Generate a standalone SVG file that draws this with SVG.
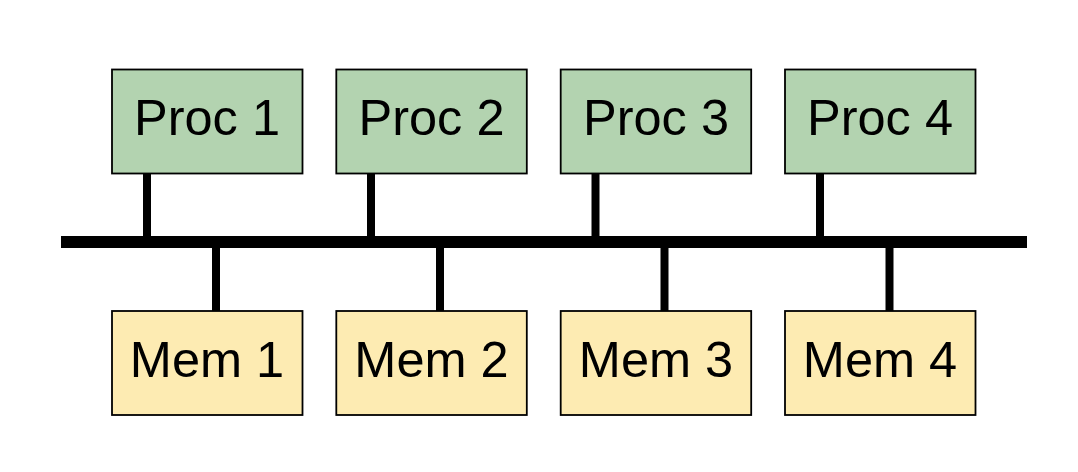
<svg xmlns="http://www.w3.org/2000/svg" width="1078" height="472" viewBox="0 0 1078 472">
<style>
.proc{fill:#b3d3b0;stroke:#000;stroke-width:1.8}
.mem{fill:#fdebb2;stroke:#000;stroke-width:1.8}
.lbl{font-family:"Liberation Sans",Arial,sans-serif;font-size:50.5px;fill:#000;text-anchor:middle}
.bus{stroke:#000;stroke-width:12;fill:none}
.stem{stroke:#000;stroke-width:8;fill:none}
</style>
<rect width="1078" height="472" fill="#fff"/>
<g id="connectors">
<line class="bus" x1="61" y1="242" x2="1027" y2="242"/>
<line class="stem" x1="147" y1="173" x2="147" y2="242"/>
<line class="stem" x1="371" y1="173" x2="371" y2="242"/>
<line class="stem" x1="595.5" y1="173" x2="595.5" y2="242"/>
<line class="stem" x1="820" y1="173" x2="820" y2="242"/>
<line class="stem" x1="216" y1="242" x2="216" y2="311"/>
<line class="stem" x1="440" y1="242" x2="440" y2="311"/>
<line class="stem" x1="664.5" y1="242" x2="664.5" y2="311"/>
<line class="stem" x1="889.5" y1="242" x2="889.5" y2="311"/>
</g>
<g id="proc1"><rect class="proc" x="112" y="69.5" width="190.5" height="104"/><text class="lbl" x="207" y="135">Proc 1</text></g>
<g id="proc2"><rect class="proc" x="336.3" y="69.5" width="190.5" height="104"/><text class="lbl" x="431.5" y="135">Proc 2</text></g>
<g id="proc3"><rect class="proc" x="560.7" y="69.5" width="190.5" height="104"/><text class="lbl" x="656" y="135">Proc 3</text></g>
<g id="proc4"><rect class="proc" x="785" y="69.5" width="190.5" height="104"/><text class="lbl" x="880" y="135">Proc 4</text></g>
<g id="mem1"><rect class="mem" x="112" y="311" width="190.5" height="104"/><text class="lbl" x="207" y="377">Mem 1</text></g>
<g id="mem2"><rect class="mem" x="336.3" y="311" width="190.5" height="104"/><text class="lbl" x="431.5" y="377">Mem 2</text></g>
<g id="mem3"><rect class="mem" x="560.7" y="311" width="190.5" height="104"/><text class="lbl" x="656" y="377">Mem 3</text></g>
<g id="mem4"><rect class="mem" x="785" y="311" width="190.5" height="104"/><text class="lbl" x="880" y="377">Mem 4</text></g>
</svg>
